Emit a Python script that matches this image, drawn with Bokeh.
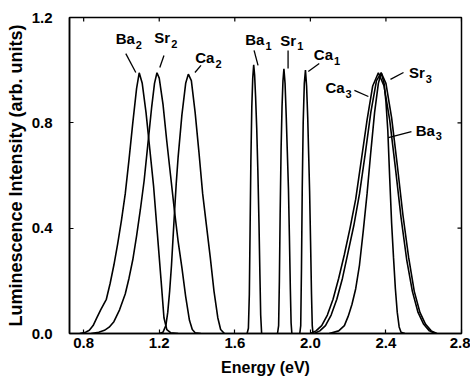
from bokeh.plotting import figure
from bokeh.models import Range1d, FixedTicker, ColumnDataSource
from bokeh.embed import file_html
from bokeh.resources import INLINE
from bokeh.core.properties import value

# ---- data (Energy in eV, intensity arb. units) ----
ba1_x = [1.665, 1.672, 1.677, 1.681, 1.685, 1.690, 1.695, 1.700, 1.705, 1.710, 1.716, 1.722, 1.728, 1.733, 1.737, 1.742]
ba1_y = [0.0, 0.02, 0.15, 0.40, 0.65, 0.86, 0.97, 1.02, 0.98, 0.90, 0.78, 0.62, 0.42, 0.22, 0.07, 0.0]

sr1_x = [1.826, 1.832, 1.836, 1.840, 1.845, 1.850, 1.855, 1.860, 1.866, 1.872, 1.878, 1.884, 1.889, 1.894, 1.898, 1.902]
sr1_y = [0.0, 0.03, 0.20, 0.45, 0.70, 0.86, 0.96, 1.005, 0.95, 0.83, 0.69, 0.55, 0.37, 0.17, 0.04, 0.0]

ca1_x = [1.944, 1.949, 1.953, 1.957, 1.962, 1.968, 1.974, 1.980, 1.986, 1.991, 1.996, 2.001, 2.006, 2.010, 2.014]
ca1_y = [0.0, 0.03, 0.25, 0.55, 0.80, 0.95, 1.0, 0.94, 0.82, 0.68, 0.54, 0.35, 0.15, 0.03, 0.0]

ba2_x = [0.78, 0.81, 0.83, 0.85, 0.87, 0.89, 0.905, 0.92, 0.94, 0.96, 0.98, 1.00, 1.02, 1.04, 1.06, 1.08, 1.094,
         1.11, 1.13, 1.15, 1.17, 1.19, 1.21, 1.225, 1.24, 1.26, 1.30]
ba2_y = [0.0, 0.005, 0.012, 0.03, 0.06, 0.09, 0.11, 0.13, 0.19, 0.26, 0.34, 0.43, 0.53, 0.66, 0.80, 0.93, 0.99,
         0.95, 0.84, 0.70, 0.56, 0.38, 0.20, 0.06, 0.015, 0.003, 0.0]

sr2_x = [0.84, 0.88, 0.91, 0.935, 0.96, 0.99, 1.02, 1.04, 1.06, 1.08, 1.10, 1.12, 1.14, 1.16, 1.175, 1.188,
         1.20, 1.22, 1.24, 1.26, 1.28, 1.30, 1.32, 1.34, 1.36, 1.375, 1.39, 1.42]
sr2_y = [0.0, 0.005, 0.012, 0.024, 0.045, 0.09, 0.15, 0.21, 0.28, 0.37, 0.47, 0.58, 0.72, 0.86, 0.95, 0.99,
         0.97, 0.87, 0.73, 0.60, 0.47, 0.35, 0.25, 0.14, 0.05, 0.015, 0.003, 0.0]

ca2_x = [1.20, 1.22, 1.235, 1.245, 1.255, 1.265, 1.28, 1.29, 1.30, 1.32, 1.34, 1.354, 1.37, 1.39, 1.41, 1.43,
         1.45, 1.47, 1.49, 1.51, 1.525, 1.545]
ca2_y = [0.0, 0.005, 0.03, 0.08, 0.16, 0.26, 0.45, 0.57, 0.67, 0.83, 0.95, 0.985, 0.96, 0.84, 0.69, 0.53,
         0.41, 0.29, 0.16, 0.06, 0.015, 0.0]

ba3_x = [2.10, 2.15, 2.18, 2.20, 2.22, 2.24, 2.26, 2.28, 2.30, 2.32, 2.34, 2.36, 2.375, 2.39, 2.40, 2.41,
         2.42, 2.43, 2.44, 2.45, 2.46, 2.47, 2.48, 2.50]
ba3_y = [0.0, 0.01, 0.03, 0.065, 0.11, 0.17, 0.26, 0.39, 0.53, 0.69, 0.84, 0.95, 0.99, 0.95, 0.88, 0.77,
         0.59, 0.42, 0.29, 0.17, 0.08, 0.025, 0.005, 0.0]

ca3_x = [2.00, 2.03, 2.06, 2.09, 2.12, 2.15, 2.18, 2.21, 2.24, 2.27, 2.30, 2.33, 2.36, 2.39, 2.42, 2.45,
         2.48, 2.51, 2.54, 2.57, 2.60, 2.63, 2.66]
ca3_y = [0.0, 0.01, 0.03, 0.07, 0.13, 0.21, 0.30, 0.40, 0.51, 0.66, 0.81, 0.94, 0.99, 0.94, 0.81, 0.63,
         0.44, 0.28, 0.16, 0.08, 0.035, 0.01, 0.0]

sr3_x = [2.02, 2.05, 2.08, 2.11, 2.14, 2.17, 2.20, 2.23, 2.26, 2.29, 2.32, 2.35, 2.375, 2.40, 2.43, 2.46,
         2.49, 2.52, 2.55, 2.58, 2.61, 2.64, 2.67]
sr3_y = [0.0, 0.01, 0.03, 0.07, 0.13, 0.21, 0.31, 0.41, 0.53, 0.68, 0.84, 0.96, 0.99, 0.95, 0.82, 0.64,
         0.45, 0.29, 0.16, 0.08, 0.035, 0.01, 0.0]

# peak labels (main text + subscript) and their leader lines
label_main = ["Ba", "Sr", "Ca", "Ba", "Sr", "Ca", "Ca", "Sr", "Ba"]
label_sub = ["2", "2", "2", "1", "1", "1", "3", "3", "3"]
label_x = [1.071, 1.258, 1.492, 1.757, 1.925, 2.120, 2.181, 2.606, 2.659]
label_y = [1.120, 1.124, 1.048, 1.115, 1.113, 1.059, 0.934, 0.991, 0.771]

lead_x0 = [1.023, 1.225, 1.421, 1.702, 1.882, 2.047, 2.233, 2.493, 2.535]
lead_y0 = [1.063, 1.056, 1.018, 1.075, 1.075, 1.025, 0.923, 0.991, 0.767]
lead_x1 = [1.076, 1.203, 1.389, 1.723, 1.882, 1.989, 2.307, 2.424, 2.413]
lead_y1 = [0.991, 1.010, 0.991, 1.018, 1.006, 0.995, 0.900, 0.965, 0.744]

x_ticks = [0.8, 1.2, 1.6, 2.0, 2.4, 2.8]
x_tick_labels = ["0.8", "1.2", "1.6", "2.0", "2.4", "2.8"]
y_ticks = [0.0, 0.4, 0.8, 1.2]
y_tick_labels = ["0.0", "0.4", "0.8", "1.2"]
x_title = "Energy (eV)"
y_title = "Luminescence Intensity (arb. units)"

X_MIN, X_MAX = 0.725, 2.8
Y_MIN, Y_MAX = 0.0, 1.2
FONT = "Liberation Sans"

p = figure(width=470, height=381, output_backend="svg", toolbar_location=None,
           x_range=Range1d(X_MIN, X_MAX), y_range=Range1d(Y_MIN, Y_MAX),
           min_border_left=69, min_border_right=9, min_border_top=17, min_border_bottom=48)
p.grid.visible = False
p.background_fill_color = "white"
p.border_fill_color = "white"
p.outline_line_color = "black"
p.outline_line_width = 1.5

for ax, ticks, labels in ((p.xaxis[0], x_ticks, x_tick_labels), (p.yaxis[0], y_ticks, y_tick_labels)):
    ax.ticker = FixedTicker(ticks=ticks)
    ax.major_label_overrides = dict(zip(ticks, labels))
    ax.major_tick_in = 4
    ax.major_tick_out = 0
    ax.minor_tick_line_color = None
    ax.axis_line_color = "black"
    ax.axis_line_width = 1.5
    ax.major_tick_line_width = 1.2
    ax.major_label_text_font = FONT
    ax.major_label_text_font_style = "bold"
    ax.major_label_text_font_size = "15px"
    ax.major_label_text_color = "black"
    ax.axis_label_text_font = FONT
    ax.axis_label_text_font_style = "bold"
    ax.axis_label_text_color = "black"

p.xaxis[0].axis_label = x_title
p.xaxis[0].axis_label_text_font_size = "16px"
p.xaxis[0].major_label_standoff = 4
p.xaxis[0].axis_label_standoff = 8
p.yaxis[0].axis_label = y_title
p.yaxis[0].axis_label_text_font_size = "18px"
p.yaxis[0].major_label_standoff = 17
p.yaxis[0].axis_label_standoff = 3

# inward tick marks on the top and right frame edges (half of each dash is clipped by the frame)
p.scatter(x=x_ticks, y=[Y_MAX] * len(x_ticks), marker="dash", size=8, angle=90, angle_units="deg",
          line_color="black", line_width=1.2)
p.scatter(x=[X_MAX] * len(y_ticks), y=y_ticks, marker="dash", size=8,
          line_color="black", line_width=1.2)

curves = [(ba2_x, ba2_y), (sr2_x, sr2_y), (ca2_x, ca2_y), (ba1_x, ba1_y), (sr1_x, sr1_y),
          (ca1_x, ca1_y), (ca3_x, ca3_y), (sr3_x, sr3_y), (ba3_x, ba3_y)]
for cx, cy in curves:
    p.line(cx, cy, line_color="black", line_width=1.6)

p.segment(x0=lead_x0, y0=lead_y0, x1=lead_x1, y1=lead_y1, line_color="black", line_width=1.3)

src = ColumnDataSource(dict(x=label_x, y=label_y, main=label_main, sub=label_sub))
p.text(x="x", y="y", text="main", source=src, text_align="right", text_baseline="middle",
       text_font=value(FONT), text_font_style="bold", text_font_size="15px", text_color="black")
p.text(x="x", y="y", text="sub", source=src, text_align="left", text_baseline="middle",
       x_offset=1, y_offset=6,
       text_font=value(FONT), text_font_style="bold", text_font_size="11px", text_color="black")

open("out.html", "w").write(file_html(p, INLINE))
